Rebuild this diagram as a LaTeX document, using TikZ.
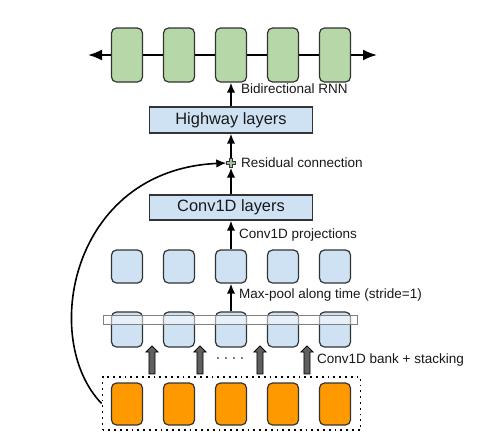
\documentclass[tikz,border=0pt]{standalone}
\usepackage{fontspec}
\setmainfont{Liberation Sans}
\usetikzlibrary{arrows.meta,shapes.arrows}
\definecolor{rnngreen}{HTML}{B6D7A8}
\definecolor{convblue}{HTML}{CFE2F3}
\definecolor{inorange}{HTML}{FF9900}
\definecolor{edgegray}{HTML}{333333}
\definecolor{bankgray}{HTML}{5F5F5F}
\definecolor{plusgreen}{HTML}{A8BCA4}
\tikzset{
  cell/.style={draw=edgegray, line width=1.2pt, rounded corners=5pt, minimum width=31pt, inner sep=0pt},
  layer/.style={draw=edgegray, line width=1.2pt, fill=convblue, minimum width=163pt, inner sep=0pt, text=black!90, font=\fontsize{16.4}{18}\selectfont},
  note/.style={anchor=west, inner sep=0pt, text=black!90, font=\fontsize{13.5}{16}\selectfont},
  bankarrow/.style={single arrow, draw=black, fill=bankgray, line width=0.7pt, minimum height=28pt, inner sep=2.7pt, single arrow head extend=3pt, rotate=90}
}
\begin{document}
\begin{tikzpicture}[x=1pt,y=-1pt,>={Latex[length=10pt,width=8.5pt]}]
 \useasboundingbox[fill=white] (0,0) rectangle (485,432);
 % rnn line
 \coordinate (rnnL) at (88,55);
 \coordinate (rnnR) at (377,55);
 \draw[{Latex[length=14pt,width=11pt]}-{Latex[length=14pt,width=11pt]},line width=2pt] (rnnL) -- (rnnR);
 \foreach \i/\x in {1/127,2/179,3/231,4/283,5/335}
 {
 \node[cell,fill=rnngreen,minimum height=54pt] (g\i) at (\x,55) {};
 \node[cell,fill=convblue,minimum height=33pt] (p\i) at (\x,266.5) {};
 \node[cell,fill=convblue,minimum height=35pt] (b\i) at (\x,329.5) {};
 \node[cell,fill=inorange,minimum height=42pt] (o\i) at (\x,404) {};
 }
 \node[layer,minimum height=26pt] (hw) at (231,120) {Highway layers};
 \node[layer,minimum height=25pt] (cv) at (231,207.5) {Conv1D layers};
 \node[draw=gray,line width=0.8pt,fill=white,fill opacity=0.5,minimum width=254pt,minimum height=9pt,inner sep=0pt] (strip) at (230,319.5) {};
 \node[draw=black,line width=1.8pt,dash pattern=on 1.8pt off 4pt,minimum width=258pt,minimum height=53pt,inner sep=0pt] (inbox) at (231.5,403.5) {};
 % residual plus
 \node[minimum size=9pt,inner sep=0pt] (plus) at (231,163) {};
 \draw[shift={(plus.center)},draw=edgegray,fill=plusgreen,line width=0.6pt] (-1.5,-4.5) -- (1.5,-4.5) -- (1.5,-1.5) -- (4.5,-1.5) -- (4.5,1.5) -- (1.5,1.5) -- (1.5,4.5) -- (-1.5,4.5) -- (-1.5,1.5) -- (-4.5,1.5) -- (-4.5,-1.5) -- (-1.5,-1.5) -- cycle;
 \draw[->,line width=1.8pt] (hw.north) -- (g3.south);
 \draw[->,line width=1.8pt] (plus.north) -- (hw.south);
 \draw[->,line width=1.8pt] (cv.north) -- (plus.south);
 \draw[->,line width=1.8pt] (p3.north) -- (cv.south);
 \draw[->,line width=1.8pt] (b3.north) -- (p3.south);
 \draw[->,line width=1.6pt] (inbox.west) .. controls (40,340) and (70,170) .. (plus.west);
 % conv bank
 \foreach \i/\x in {1/152,2/200,3/260,4/307}
 \node[bankarrow] (s\i) at (\x,361.5) {};
 \foreach \x in {218,226,234,242}
 \fill (\x,358) circle (0.9pt);
 \node[note] (rnntext) at (241,89) {Bidirectional RNN};
 \node[note] (restext) at (241,163) {Residual connection};
 \node[note] (projtext) at (239,235) {Conv1D projections};
 \node[note] (pooltext) at (239,295) {Max-pool along time (stride=1)};
 \node[note] (banktext) at (317,360) {Conv1D bank + stacking};
\end{tikzpicture}
\end{document}
